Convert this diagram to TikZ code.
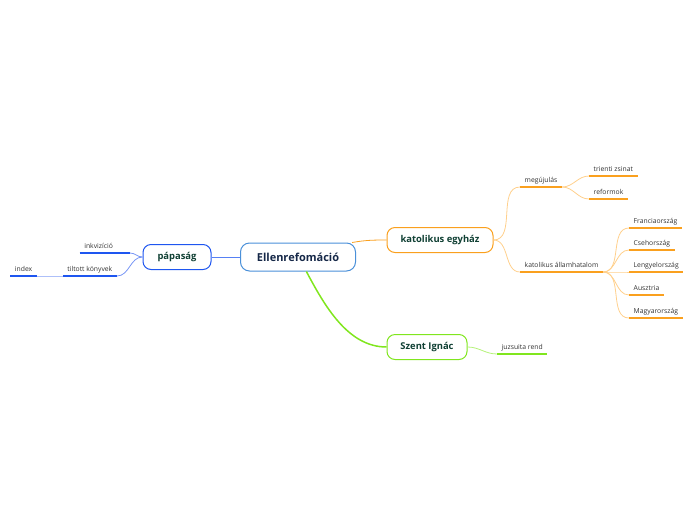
\documentclass[tikz,border=0pt]{standalone}
\usepackage{fontspec}
\setmainfont{Open Sans}
\usetikzlibrary{positioning,calc}
\definecolor{RootBlue}{RGB}{74,144,217}
\definecolor{RootText}{RGB}{22,40,72}
\definecolor{TopicText}{RGB}{16,64,52}
\definecolor{PapaBlue}{RGB}{30,86,240}
\definecolor{PapaLight}{RGB}{120,150,245}
\definecolor{KatOrange}{RGB}{250,160,30}
\definecolor{KatLight}{RGB}{255,208,140}
\definecolor{IgnGreen}{RGB}{128,230,30}
\definecolor{IgnLight}{RGB}{180,242,120}
\definecolor{LeafText}{RGB}{50,50,50}

\begin{document}
\begin{tikzpicture}[
    x=1pt, y=-1pt,
    root/.style={
        draw=RootBlue,
        line width=1pt,
        rounded corners=9pt,
        fill=white,
        minimum width=115pt,
        minimum height=28pt,
        text=RootText,
        font=\fontsize{11}{13}\selectfont\bfseries
    },
    topic/.style={
        draw=#1,
        line width=1pt,
        rounded corners=8pt,
        fill=white,
        minimum height=25pt,
        text=TopicText,
        font=\fontsize{9.4}{11}\selectfont\bfseries
    },
    leaf/.style={
        inner xsep=4.5pt,
        inner ysep=3.2pt,
        text height=5.3pt,
        text depth=1.5pt,
        text=LeafText,
        font=\fontsize{6.8}{8}\selectfont
    },
    link/.style={
        line width=0.8pt,
        draw=#1
    },
    uline/.style={
        line width=1.6pt,
        draw=#1
    }
]
\useasboundingbox (0,0) rectangle (696,520);

% main topics
\node[root] (center) at (298,257) {Ellenrefomáció};
\node[topic=PapaBlue, minimum width=68pt] (papa) at (177,257) {pápaság};
\node[topic=KatOrange, minimum width=106pt] (kat) at (440,240) {katolikus egyház};
\node[topic=IgnGreen, minimum width=80pt] (ign) at (427,347) {Szent Ignác};

% pápaság
\node[leaf, anchor=south east, text width=41pt] (inkv) at (130,253) {inkvizíció};
\node[leaf, anchor=south east] (tilt) at (117,276) {tiltott könyvek};
\node[leaf, anchor=south east] (index) at (37,276) {index};

% katolikus egyház
\node[leaf, anchor=south west] (megu) at (520,187) {megújulás};
\node[leaf, anchor=south west] (allam) at (520,272) {katolikus államhatalom};
\node[leaf, anchor=south west] (trient) at (589,176) {trienti zsinat};
\node[leaf, anchor=south west] (reform) at (589,199) {reformok};
\node[leaf, anchor=south west] (fran) at (629,228) {Franciaország};
\node[leaf, anchor=south west] (cseh) at (629,250) {Csehország};
\node[leaf, anchor=south west] (lengy) at (629,272) {Lengyelország};
\node[leaf, anchor=south west] (ausz) at (629,295) {Ausztria};
\node[leaf, anchor=south west] (magy) at (629,318) {Magyarország};

% Szent Ignác
\node[leaf, anchor=south west] (jezs) at (497,354) {juzsuita rend};

% main connectors
\draw[link=PapaBlue!75] (center.west) -- (papa.east);
\draw[link=KatOrange] (center.15) to[out=10, in=180] (kat.west);
\draw[link=IgnGreen, line width=1.5pt] (center.-60) to[out=-62, in=180, looseness=0.9] (ign.west);

% branches
\foreach \n in {inkv, tilt}
    \draw[link=PapaLight] (papa.west) to[out=180, in=0] (\n.south east);
\draw[link=PapaLight!60] (tilt.south west) -- (index.south east);
\foreach \n in {megu, allam}
    \draw[link=KatLight] (kat.east) to[out=0, in=180] (\n.south west);
\foreach \n in {trient, reform}
    \draw[link=KatLight] (megu.south east) to[out=0, in=180] (\n.south west);
\foreach \n in {fran, cseh, lengy, ausz, magy}
    \draw[link=KatLight] (allam.south east) to[out=0, in=180] (\n.south west);
\draw[link=IgnLight] (ign.east) to[out=0, in=180] (jezs.south west);

% underlines
\foreach \n in {inkv, tilt, index}
    \draw[uline=PapaBlue] (\n.south west) -- (\n.south east);
\foreach \n in {megu, allam, trient, reform, fran, cseh, lengy, ausz, magy}
    \draw[uline=KatOrange] (\n.south west) -- (\n.south east);
\draw[uline=IgnGreen] (jezs.south west) -- (jezs.south east);

\end{tikzpicture}
\end{document}
